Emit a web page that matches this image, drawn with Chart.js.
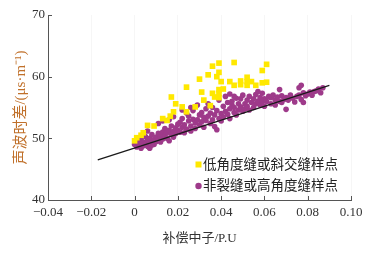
<!DOCTYPE html>
<html>
<head>
<meta charset="utf-8">
<script src="https://cdn.jsdelivr.net/npm/chart.js@4"></script>
<style>
  html, body { margin: 0; padding: 0; background: #fff; }
  #wrap { width: 382px; height: 255px; }
</style>
</head>
<body>
<div id="wrap"><canvas id="myChart" width="382" height="255"></canvas></div>
<script>
// ---- data ----
var xTicks = [-0.04, -0.02, 0, 0.02, 0.04, 0.06, 0.08, 0.10];
var yTicks = [40, 50, 60, 70];

var legendNames = ['低角度缝或斜交缝样点', '非裂缝或高角度缝样点'];

// low-angle / oblique fracture samples (yellow squares)
var yellowX = [0.036, 0.039, 0.046, 0.061, 0.059, 0.039, 0.034, 0.030, 0.038, 0.040,
  0.044, 0.046, 0.049, 0.052, 0.052, 0.054, 0.049, 0.052, 0.056, 0.059,
  0.061, 0.024, 0.031, 0.036, 0.039, 0.041, 0.039, 0.037, 0.039, 0.017,
  0.032, 0.019, 0.022, 0.024, 0.028, 0.035, 0.018, 0.0165, 0.013, 0.015,
  0.006, 0.009, 0.003, 0.004, 0.001, 0.000];
var yellowY = [61.7, 62.2, 62.3, 62.0, 61.0, 60.7, 60.3, 59.6, 60.0, 59.2,
  59.2, 58.6, 59.3, 59.9, 59.2, 59.2, 58.7, 58.6, 58.6, 59.0,
  59.1, 58.3, 57.5, 57.3, 57.9, 58.0, 57.3, 56.7, 56.6, 56.7,
  56.2, 55.6, 55.1, 54.3, 55.1, 55.3, 54.3, 53.6, 53.2, 52.9,
  52.1, 52.0, 50.5, 50.9, 50.1, 49.6];

// non-fractured / high-angle fracture samples (purple dots)
var purpleX = [
  0.000, 0.001, 0.001, 0.002, 0.003, 0.003, 0.004, 0.004, 0.005, 0.005, 0.006, 0.006,
  0.007, 0.007, 0.008, 0.008, 0.009, 0.009, 0.010, 0.010, 0.002, 0.004, 0.006, 0.008,
  0.011, 0.011, 0.012, 0.012, 0.013, 0.013, 0.014, 0.014, 0.015, 0.015, 0.016, 0.016,
  0.017, 0.017, 0.018, 0.018, 0.019, 0.019, 0.020, 0.020, 0.011, 0.013, 0.016, 0.018,
  0.021, 0.021, 0.022, 0.022, 0.023, 0.023, 0.024, 0.024, 0.025, 0.025, 0.026, 0.026,
  0.027, 0.027, 0.028, 0.028, 0.029, 0.029, 0.030, 0.030, 0.022, 0.026,
  0.031, 0.031, 0.032, 0.032, 0.033, 0.033, 0.034, 0.034, 0.035, 0.035, 0.036, 0.036,
  0.037, 0.037, 0.038, 0.038, 0.039, 0.039, 0.040, 0.040,
  0.041, 0.041, 0.042, 0.042, 0.043, 0.043, 0.044, 0.044, 0.045, 0.045, 0.046, 0.046,
  0.047, 0.047, 0.048, 0.048, 0.049, 0.049, 0.050, 0.050, 0.044, 0.046,
  0.051, 0.051, 0.052, 0.052, 0.053, 0.053, 0.054, 0.055, 0.055, 0.056, 0.056, 0.057,
  0.057, 0.058, 0.058, 0.059, 0.059, 0.060, 0.060,
  0.061, 0.062, 0.063, 0.063, 0.064, 0.065, 0.065, 0.066, 0.067, 0.067, 0.068, 0.068,
  0.069, 0.070, 0.070,
  0.071, 0.072, 0.073, 0.074, 0.075, 0.076, 0.076, 0.077, 0.077, 0.078, 0.078, 0.079,
  0.080, 0.081, 0.082, 0.083, 0.084, 0.085, 0.087, 0.086];
var purpleY = [
  49.0, 48.6, 49.6, 49.2, 48.4, 49.9, 49.4, 48.8, 50.3, 49.1, 49.7, 48.7,
  48.4, 50.0, 49.3, 50.6, 49.0, 49.8, 50.2, 49.5, 50.1, 50.6, 51.2, 48.9,
  49.8, 50.8, 49.4, 50.3, 51.0, 49.9, 50.5, 51.6, 50.0, 50.9, 51.3, 49.6,
  50.6, 52.0, 51.1, 50.2, 51.7, 50.8, 51.3, 52.3, 52.4, 52.8, 53.0, 53.5,
  51.0, 52.6, 51.8, 53.2, 50.9, 52.2, 54.1, 51.5, 52.8, 53.6, 52.0, 51.2,
  53.1, 54.5, 52.5, 51.6, 55.4, 53.0, 52.2, 53.8, 54.6, 55.0,
  52.7, 54.2, 53.4, 51.8, 54.8, 52.9, 53.6, 55.6, 52.4, 54.1, 53.0, 55.0,
  53.8, 51.9, 54.5, 51.4, 56.2, 53.2, 52.8, 54.0,
  53.5, 55.2, 56.8, 54.4, 53.9, 55.8, 54.8, 53.2, 55.4, 56.0, 54.2, 55.0,
  56.5, 53.8, 55.6, 54.6, 56.4, 55.1, 54.4, 57.0, 57.2, 56.8,
  55.6, 54.8, 56.2, 55.2, 56.8, 54.6, 55.8, 56.4, 55.0, 57.1, 55.6, 57.6,
  56.0, 55.4, 56.6, 57.3, 55.9, 56.4, 55.2,
  56.0, 56.8, 56.6, 55.6, 57.0, 56.2, 55.4, 56.7, 57.9, 56.0, 55.8, 56.9,
  56.3, 56.6, 54.7,
  56.2, 57.0, 56.5, 55.9, 56.8, 58.2, 57.0, 58.6, 56.3, 55.8, 57.4, 56.9,
  57.2, 57.5, 57.0, 57.6, 57.7, 58.0, 58.2, 57.4];

// fitted trend line, end points
var fitX = [-0.017, 0.090];
var fitY = [46.5, 58.6];

// ----------------------------------------------------------------

var serif = '"Liberation Serif", "Noto Sans CJK SC", serif';
var yellow = 'rgb(255, 232, 0)';
var purple = 'rgb(158, 58, 138)';
var axisColor = '#555';

function toPoints(xs, ys) {
  return xs.map(function (x, i) { return { x: x, y: ys[i] }; });
}

function tickText(v) {
  if (Math.abs(v) < 1e-9) return '0';
  var s = Math.abs(v).toFixed(2);
  return (v < 0 ? '\u2212' : '') + s;
}

// ticks pointing into the plot + legend inside the plot
const innerBits = {
  id: 'innerBits',
  afterDraw: function (chart) {
    var ctx = chart.ctx;
    var xs = chart.scales.x, ys = chart.scales.y;
    var a = chart.chartArea;
    ctx.save();
    ctx.strokeStyle = axisColor;
    ctx.lineWidth = 1;
    ctx.beginPath();
    xTicks.forEach(function (v) {
      var px = Math.round(xs.getPixelForValue(v)) + 0.5;
      ctx.moveTo(px, a.bottom);
      ctx.lineTo(px, a.bottom - 4);
    });
    yTicks.forEach(function (v) {
      var py = Math.round(ys.getPixelForValue(v)) + 0.5;
      ctx.moveTo(a.left, py);
      ctx.lineTo(a.left + 4, py);
    });
    ctx.stroke();

    // legend
    ctx.font = '13.5px ' + serif;
    ctx.textBaseline = 'middle';
    ctx.fillStyle = yellow;
    ctx.fillRect(195.5, 161.5, 6, 6);
    ctx.fillStyle = purple;
    ctx.beginPath();
    ctx.arc(198.5, 186, 3.2, 0, Math.PI * 2);
    ctx.fill();
    ctx.fillStyle = '#222';
    ctx.fillText(legendNames[0], 203, 165);
    ctx.fillText(legendNames[1], 203, 186);
    ctx.restore();
  }
};

const config = {
  type: 'scatter',
  data: {
    datasets: [
      {
        type: 'line',
        label: 'fit',
        data: toPoints(fitX, fitY),
        borderColor: '#1a1a1a',
        borderWidth: 1.3,
        pointRadius: 0,
        fill: false
      },
      {
        label: legendNames[0],
        data: toPoints(yellowX, yellowY),
        pointStyle: 'rect',
        pointRadius: 4,
        backgroundColor: yellow,
        borderWidth: 0
      },
      {
        label: legendNames[1],
        data: toPoints(purpleX, purpleY),
        pointStyle: 'circle',
        pointRadius: 2.8,
        backgroundColor: purple,
        borderWidth: 0
      }
    ]
  },
  plugins: [innerBits],
  options: {
    responsive: false,
    animation: false,
    layout: { padding: { left: 0, right: 31, top: 15, bottom: 0 } },
    plugins: {
      legend: { display: false },
      tooltip: { enabled: false }
    },
    scales: {
      x: {
        type: 'linear',
        min: -0.04,
        max: 0.10,
        afterBuildTicks: function (scale) {
          scale.ticks = xTicks.map(function (v) { return { value: v }; });
        },
        afterFit: function (scale) { scale.height = 55; },
        ticks: {
          callback: function (v) { return tickText(v); },
          font: { family: serif, size: 13 },
          color: '#333',
          padding: 5,
          maxRotation: 0
        },
        grid: {
          display: true,
          drawOnChartArea: true,
          drawTicks: false,
          color: 'rgba(0,0,0,0.035)'
        },
        border: { display: true, color: axisColor, width: 1 },
        title: {
          display: true,
          text: '补偿中子/P.U',
          font: { family: serif, size: 13 },
          color: '#333',
          padding: { top: 0, bottom: 9 }
        }
      },
      y: {
        type: 'linear',
        min: 40,
        max: 70,
        afterBuildTicks: function (scale) {
          scale.ticks = yTicks.map(function (v) { return { value: v }; });
        },
        afterFit: function (scale) { scale.width = 48; },
        ticks: {
          font: { family: serif, size: 13 },
          color: '#333',
          padding: 3
        },
        grid: {
          display: true,
          drawOnChartArea: false,
          drawTicks: false
        },
        border: { display: true, color: axisColor, width: 1 },
        title: {
          display: true,
          text: '声波时差/(μs·m\u207B\u00B9)',
          font: { family: serif, size: 15 },
          color: '#c0702a',
          padding: { top: 12, bottom: 0 }
        }
      }
    }
  }
};

var canvas = document.getElementById('myChart').getContext('2d');
var myChart = new Chart(canvas, config);
</script>
</body>
</html>
